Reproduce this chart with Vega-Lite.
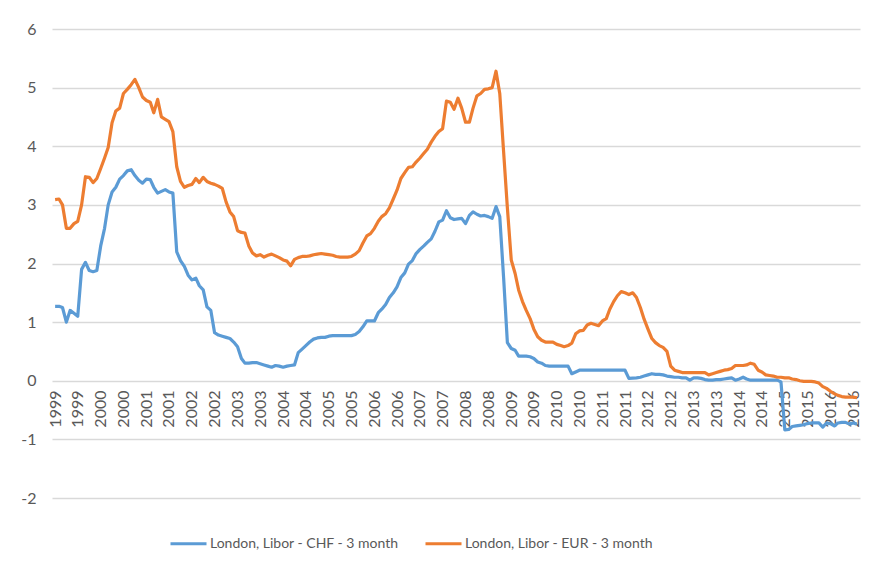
{
  "$schema": "https://vega.github.io/schema/vega-lite/v6.json",
  "width": 808,
  "height": 469,
  "autosize": "none",
  "padding": {"left": 52, "top": 29, "right": 14, "bottom": 69},
  "background": "white",
  "config": {"view": {"stroke": null}, "font": "Lato"},
  "data": {"values": [
    {"d":"1999-01-01","c":1.27,"e":3.09},{"d":"1999-02-01","c":1.27,"e":3.1},{"d":"1999-03-01","c":1.25,"e":3.0},{"d":"1999-04-01","c":1.0,"e":2.6},{"d":"1999-05-01","c":1.2,"e":2.6},{"d":"1999-06-01","c":1.15,"e":2.68},{"d":"1999-07-01","c":1.1,"e":2.72},{"d":"1999-08-01","c":1.9,"e":3.0},{"d":"1999-09-01","c":2.02,"e":3.48},{"d":"1999-10-01","c":1.88,"e":3.47},{"d":"1999-11-01","c":1.86,"e":3.38},{"d":"1999-12-01","c":1.88,"e":3.45},
    {"d":"2000-01-01","c":2.3,"e":3.62},{"d":"2000-02-01","c":2.6,"e":3.8},{"d":"2000-03-01","c":3.0,"e":3.98},{"d":"2000-04-01","c":3.22,"e":4.4},{"d":"2000-05-01","c":3.3,"e":4.6},{"d":"2000-06-01","c":3.44,"e":4.65},{"d":"2000-07-01","c":3.5,"e":4.9},{"d":"2000-08-01","c":3.58,"e":4.97},{"d":"2000-09-01","c":3.6,"e":5.05},{"d":"2000-10-01","c":3.5,"e":5.14},{"d":"2000-11-01","c":3.42,"e":5.0},{"d":"2000-12-01","c":3.37,"e":4.84},
    {"d":"2001-01-01","c":3.44,"e":4.78},{"d":"2001-02-01","c":3.43,"e":4.75},{"d":"2001-03-01","c":3.3,"e":4.57},{"d":"2001-04-01","c":3.2,"e":4.8},{"d":"2001-05-01","c":3.23,"e":4.5},{"d":"2001-06-01","c":3.26,"e":4.46},{"d":"2001-07-01","c":3.22,"e":4.42},{"d":"2001-08-01","c":3.2,"e":4.25},{"d":"2001-09-01","c":2.2,"e":3.65},{"d":"2001-10-01","c":2.05,"e":3.4},{"d":"2001-11-01","c":1.95,"e":3.3},{"d":"2001-12-01","c":1.8,"e":3.33},
    {"d":"2002-01-01","c":1.72,"e":3.35},{"d":"2002-02-01","c":1.75,"e":3.45},{"d":"2002-03-01","c":1.62,"e":3.38},{"d":"2002-04-01","c":1.55,"e":3.47},{"d":"2002-05-01","c":1.26,"e":3.4},{"d":"2002-06-01","c":1.2,"e":3.37},{"d":"2002-07-01","c":0.82,"e":3.35},{"d":"2002-08-01","c":0.78,"e":3.32},{"d":"2002-09-01","c":0.76,"e":3.28},{"d":"2002-10-01","c":0.74,"e":3.05},{"d":"2002-11-01","c":0.72,"e":2.88},{"d":"2002-12-01","c":0.66,"e":2.8},
    {"d":"2003-01-01","c":0.58,"e":2.56},{"d":"2003-02-01","c":0.38,"e":2.53},{"d":"2003-03-01","c":0.3,"e":2.52},{"d":"2003-04-01","c":0.3,"e":2.3},{"d":"2003-05-01","c":0.31,"e":2.18},{"d":"2003-06-01","c":0.31,"e":2.13},{"d":"2003-07-01","c":0.29,"e":2.15},{"d":"2003-08-01","c":0.27,"e":2.11},{"d":"2003-09-01","c":0.25,"e":2.14},{"d":"2003-10-01","c":0.23,"e":2.16},{"d":"2003-11-01","c":0.26,"e":2.13},{"d":"2003-12-01","c":0.25,"e":2.1},
    {"d":"2004-01-01","c":0.23,"e":2.06},{"d":"2004-02-01","c":0.25,"e":2.04},{"d":"2004-03-01","c":0.26,"e":1.96},{"d":"2004-04-01","c":0.27,"e":2.07},{"d":"2004-05-01","c":0.48,"e":2.1},{"d":"2004-06-01","c":0.54,"e":2.12},{"d":"2004-07-01","c":0.6,"e":2.12},{"d":"2004-08-01","c":0.66,"e":2.13},{"d":"2004-09-01","c":0.71,"e":2.15},{"d":"2004-10-01","c":0.73,"e":2.16},{"d":"2004-11-01","c":0.74,"e":2.17},{"d":"2004-12-01","c":0.74,"e":2.16},
    {"d":"2005-01-01","c":0.76,"e":2.15},{"d":"2005-02-01","c":0.77,"e":2.14},{"d":"2005-03-01","c":0.77,"e":2.12},{"d":"2005-04-01","c":0.77,"e":2.11},{"d":"2005-05-01","c":0.77,"e":2.11},{"d":"2005-06-01","c":0.77,"e":2.11},{"d":"2005-07-01","c":0.77,"e":2.12},{"d":"2005-08-01","c":0.79,"e":2.16},{"d":"2005-09-01","c":0.84,"e":2.22},{"d":"2005-10-01","c":0.92,"e":2.35},{"d":"2005-11-01","c":1.02,"e":2.47},{"d":"2005-12-01","c":1.02,"e":2.51},
    {"d":"2006-01-01","c":1.02,"e":2.6},{"d":"2006-02-01","c":1.16,"e":2.72},{"d":"2006-03-01","c":1.22,"e":2.8},{"d":"2006-04-01","c":1.3,"e":2.85},{"d":"2006-05-01","c":1.42,"e":2.95},{"d":"2006-06-01","c":1.5,"e":3.1},{"d":"2006-07-01","c":1.6,"e":3.25},{"d":"2006-08-01","c":1.76,"e":3.45},{"d":"2006-09-01","c":1.84,"e":3.55},{"d":"2006-10-01","c":1.99,"e":3.64},{"d":"2006-11-01","c":2.05,"e":3.65},{"d":"2006-12-01","c":2.17,"e":3.73},
    {"d":"2007-01-01","c":2.24,"e":3.8},{"d":"2007-02-01","c":2.3,"e":3.88},{"d":"2007-03-01","c":2.36,"e":3.95},{"d":"2007-04-01","c":2.42,"e":4.07},{"d":"2007-05-01","c":2.55,"e":4.17},{"d":"2007-06-01","c":2.71,"e":4.25},{"d":"2007-07-01","c":2.74,"e":4.3},{"d":"2007-08-01","c":2.9,"e":4.77},{"d":"2007-09-01","c":2.78,"e":4.75},{"d":"2007-10-01","c":2.75,"e":4.63},{"d":"2007-11-01","c":2.76,"e":4.82},{"d":"2007-12-01","c":2.77,"e":4.65},
    {"d":"2008-01-01","c":2.68,"e":4.41},{"d":"2008-02-01","c":2.82,"e":4.41},{"d":"2008-03-01","c":2.88,"e":4.65},{"d":"2008-04-01","c":2.84,"e":4.86},{"d":"2008-05-01","c":2.81,"e":4.9},{"d":"2008-06-01","c":2.82,"e":4.97},{"d":"2008-07-01","c":2.8,"e":4.98},{"d":"2008-08-01","c":2.77,"e":5.0},{"d":"2008-09-01","c":2.97,"e":5.28},{"d":"2008-10-01","c":2.8,"e":4.9},{"d":"2008-11-01","c":1.75,"e":3.9},{"d":"2008-12-01","c":0.65,"e":2.95},
    {"d":"2009-01-01","c":0.55,"e":2.06},{"d":"2009-02-01","c":0.52,"e":1.83},{"d":"2009-03-01","c":0.42,"e":1.55},{"d":"2009-04-01","c":0.42,"e":1.35},{"d":"2009-05-01","c":0.42,"e":1.2},{"d":"2009-06-01","c":0.41,"e":1.06},{"d":"2009-07-01","c":0.38,"e":0.88},{"d":"2009-08-01","c":0.32,"e":0.75},{"d":"2009-09-01","c":0.3,"e":0.69},{"d":"2009-10-01","c":0.26,"e":0.66},{"d":"2009-11-01","c":0.25,"e":0.66},{"d":"2009-12-01","c":0.25,"e":0.66},
    {"d":"2010-01-01","c":0.25,"e":0.62},{"d":"2010-02-01","c":0.25,"e":0.6},{"d":"2010-03-01","c":0.25,"e":0.58},{"d":"2010-04-01","c":0.25,"e":0.6},{"d":"2010-05-01","c":0.12,"e":0.64},{"d":"2010-06-01","c":0.15,"e":0.8},{"d":"2010-07-01","c":0.18,"e":0.85},{"d":"2010-08-01","c":0.18,"e":0.86},{"d":"2010-09-01","c":0.18,"e":0.95},{"d":"2010-10-01","c":0.18,"e":0.98},{"d":"2010-11-01","c":0.18,"e":0.96},{"d":"2010-12-01","c":0.18,"e":0.94},
    {"d":"2011-01-01","c":0.18,"e":1.02},{"d":"2011-02-01","c":0.18,"e":1.06},{"d":"2011-03-01","c":0.18,"e":1.22},{"d":"2011-04-01","c":0.18,"e":1.35},{"d":"2011-05-01","c":0.18,"e":1.45},{"d":"2011-06-01","c":0.18,"e":1.52},{"d":"2011-07-01","c":0.18,"e":1.5},{"d":"2011-08-01","c":0.04,"e":1.47},{"d":"2011-09-01","c":0.045,"e":1.5},{"d":"2011-10-01","c":0.05,"e":1.42},{"d":"2011-11-01","c":0.06,"e":1.25},{"d":"2011-12-01","c":0.08,"e":1.05},
    {"d":"2012-01-01","c":0.1,"e":0.88},{"d":"2012-02-01","c":0.12,"e":0.72},{"d":"2012-03-01","c":0.11,"e":0.65},{"d":"2012-04-01","c":0.11,"e":0.6},{"d":"2012-05-01","c":0.1,"e":0.57},{"d":"2012-06-01","c":0.08,"e":0.5},{"d":"2012-07-01","c":0.07,"e":0.25},{"d":"2012-08-01","c":0.06,"e":0.18},{"d":"2012-09-01","c":0.06,"e":0.16},{"d":"2012-10-01","c":0.05,"e":0.14},{"d":"2012-11-01","c":0.05,"e":0.14},{"d":"2012-12-01","c":0.01,"e":0.14},
    {"d":"2013-01-01","c":0.05,"e":0.14},{"d":"2013-02-01","c":0.05,"e":0.14},{"d":"2013-03-01","c":0.04,"e":0.14},{"d":"2013-04-01","c":0.02,"e":0.14},{"d":"2013-05-01","c":0.01,"e":0.1},{"d":"2013-06-01","c":0.01,"e":0.12},{"d":"2013-07-01","c":0.02,"e":0.14},{"d":"2013-08-01","c":0.02,"e":0.16},{"d":"2013-09-01","c":0.03,"e":0.18},{"d":"2013-10-01","c":0.04,"e":0.19},{"d":"2013-11-01","c":0.05,"e":0.21},{"d":"2013-12-01","c":0.01,"e":0.26},
    {"d":"2014-01-01","c":0.03,"e":0.26},{"d":"2014-02-01","c":0.06,"e":0.26},{"d":"2014-03-01","c":0.03,"e":0.27},{"d":"2014-04-01","c":0.01,"e":0.3},{"d":"2014-05-01","c":0.01,"e":0.28},{"d":"2014-06-01","c":0.01,"e":0.18},{"d":"2014-07-01","c":0.01,"e":0.15},{"d":"2014-08-01","c":0.01,"e":0.1},{"d":"2014-09-01","c":0.01,"e":0.09},{"d":"2014-10-01","c":0.01,"e":0.08},{"d":"2014-11-01","c":0.01,"e":0.06},{"d":"2014-12-01","c":-0.02,"e":0.06},
    {"d":"2015-01-01","c":-0.84,"e":0.05},{"d":"2015-02-01","c":-0.83,"e":0.05},{"d":"2015-03-01","c":-0.78,"e":0.03},{"d":"2015-04-01","c":-0.77,"e":0.02},{"d":"2015-05-01","c":-0.76,"e":0.0},{"d":"2015-06-01","c":-0.75,"e":-0.01},{"d":"2015-07-01","c":-0.73,"e":-0.01},{"d":"2015-08-01","c":-0.72,"e":-0.01},{"d":"2015-09-01","c":-0.72,"e":-0.02},{"d":"2015-10-01","c":-0.72,"e":-0.04},{"d":"2015-11-01","c":-0.79,"e":-0.1},{"d":"2015-12-01","c":-0.72,"e":-0.13},
    {"d":"2016-01-01","c":-0.73,"e":-0.18},{"d":"2016-02-01","c":-0.77,"e":-0.22},{"d":"2016-03-01","c":-0.72,"e":-0.25},{"d":"2016-04-01","c":-0.71,"e":-0.27},{"d":"2016-05-01","c":-0.71,"e":-0.28},{"d":"2016-06-01","c":-0.74,"e":-0.28},{"d":"2016-07-01","c":-0.72,"e":-0.28},{"d":"2016-08-01","c":-0.74,"e":-0.29}
  ]},
  "transform": [{"fold": ["c", "e"], "as": ["s", "v"]}],
  "mark": {"type": "line", "strokeWidth": 3.2, "strokeJoin": "round", "interpolate": "linear"},
  "encoding": {
    "x": {
      "field": "d", "type": "temporal",
      "scale": {"type": "utc", "domain": [{"year": 1998, "month": 12, "date": 7, "utc": true}, {"year": 2016, "month": 8, "date": 25, "utc": true}]},
      "axis": {
        "title": null,
        "labelExpr": "utcFormat(datum.value, '%Y')",
        "tickCount": {"interval": "month", "step": 6},
        "offset": -117, "labelAngle": -90, "labelPadding": 9,
        "ticks": false, "tickSize": 0, "domain": false, "grid": false,
        "labelOverlap": false, "labelBound": false, "labelFlush": false,
        "labelFontSize": 16, "labelColor": "#595959", "labelFont": "Lato"
      }
    },
    "y": {
      "field": "v", "type": "quantitative",
      "scale": {"domain": [-2, 6], "nice": false, "zero": false},
      "axis": {
        "title": null, "values": [-2, -1, 0, 1, 2, 3, 4, 5, 6],
        "labelExpr": "datum.value + ''",
        "domain": false, "ticks": false, "tickSize": 0, "labelPadding": 16,
        "grid": true, "gridColor": "#d9d9d9", "gridWidth": 1.3,
        "labelFontSize": 16, "labelColor": "#595959", "labelFont": "Lato"
      }
    },
    "color": {
      "field": "s", "type": "nominal",
      "scale": {"domain": ["c", "e"], "range": ["#5B9BD5", "#ED7D31"]},
      "legend": {
        "title": null, "orient": "none", "legendX": 117, "legendY": 495,
        "direction": "horizontal", "symbolType": "stroke", "symbolSize": 1296,
        "symbolStrokeWidth": 3, "labelOffset": 2, "columnPadding": 20,
        "labelFontSize": 14, "labelColor": "#595959", "labelFont": "Lato", "labelLimit": 400,
        "labelExpr": "datum.value == 'c' ? 'London, Libor - CHF - 3 month' : 'London, Libor - EUR - 3 month'"
      }
    }
  }
}
